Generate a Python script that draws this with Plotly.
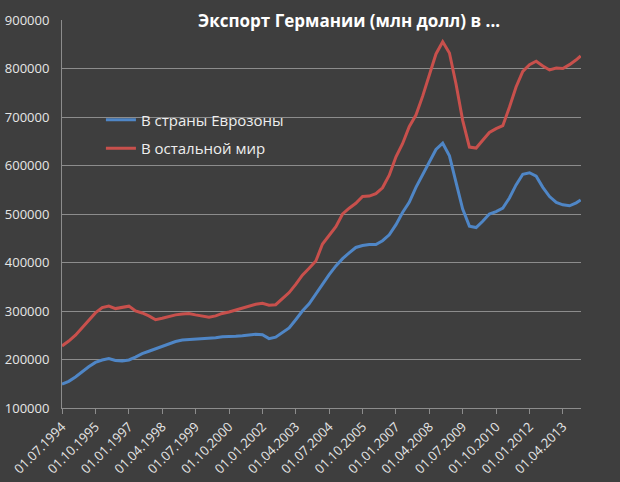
import plotly.graph_objects as go
import pandas as pd

# Quarterly dates (Jul 1994 .. Oct 2013) plus final Dec 2013
dates = list(pd.date_range("1994-07-01", "2013-10-01", freq="3MS").strftime("%Y-%m-%d")) + ["2013-12-01"]

eurozone = [149, 155, 164, 175, 185, 194, 199, 202, 198, 197,
            199, 205, 212, 217, 222, 226, 231, 237, 240, 241,
            242, 243, 243, 245, 247, 247, 248, 249, 250, 252,
            251, 243, 246, 255, 265, 282, 300, 315, 335, 356,
            375, 393, 408, 420, 431, 435, 437, 437, 445, 457,
            478, 503, 524, 555, 581, 606, 633, 646, 620, 565,
            510, 475, 472, 485, 500, 505, 512, 533, 560, 582,
            585, 578, 555, 536, 524, 519, 517, 523, 529]

rest_world = [228, 238, 250, 265, 282, 296, 307, 310, 305, 307,
              310, 300, 296, 290, 282, 285, 289, 292, 294, 295,
              292, 289, 287, 290, 295, 298, 302, 306, 310, 314,
              316, 312, 313, 326, 338, 355, 374, 388, 403, 438,
              456, 474, 500, 512, 522, 536, 537, 542, 554, 580,
              618, 645, 680, 704, 743, 788, 830, 855, 832, 768,
              693, 638, 636, 652, 668, 676, 682, 720, 762, 794,
              808, 815, 805, 797, 801, 800, 808, 818, 826]

eurozone = [v * 1000 for v in eurozone]
rest_world = [v * 1000 for v in rest_world]

tick_dates = list(pd.date_range("1994-07-01", "2013-04-01", freq="15MS").strftime("%Y-%m-%d"))
tick_labels = [pd.Timestamp(d).strftime("%d.%m.%Y") for d in tick_dates]
y_ticks = list(range(100000, 900001, 100000))

series_names = ["В страны Еврозоны", "В остальной мир"]
colors = ["#4f86c6", "#c8504c"]

fig = go.Figure()
for name, vals, col, grp in zip(series_names, [eurozone, rest_world], colors, ["a", "b"]):
    fig.add_trace(go.Scatter(x=dates, y=vals, mode="lines", name=name,
                             legendgroup=grp,
                             line=dict(color=col, width=3)))

fig.update_layout(
    width=620, height=482,
    margin=dict(l=62, r=39, t=20, b=74),
    paper_bgcolor="#3e3e3e", plot_bgcolor="#3e3e3e",
    font=dict(family="Open Sans", color="#e6e6e6", size=13),
    title=dict(text="<b>Экспорт Германии (млн долл) в ...</b>",
               x=0.563, xanchor="center", y=0.956, yanchor="middle",
               font=dict(family="Open Sans", size=17, color="#ffffff")),
    legend=dict(x=0.075, y=0.785, xanchor="left", yanchor="top",
                bgcolor="rgba(0,0,0,0)", font=dict(size=15, color="#eeeeee"),
                tracegroupgap=6),
    showlegend=True,
)
fig.update_xaxes(type="date", range=["1994-07-01", "2013-12-05"],
                 tickvals=tick_dates, ticktext=tick_labels, tickangle=-45,
                 ticks="outside", ticklen=5, tickcolor="#8c8c8c",
                 showline=True, linecolor="#8c8c8c", linewidth=1,
                 showgrid=False, zeroline=False, automargin=False,
                 tickfont=dict(size=13, color="#e6e6e6"))
fig.update_yaxes(range=[100000, 900000], tickvals=y_ticks,
                 ticktext=[str(v) for v in y_ticks],
                 showline=True, linecolor="#8c8c8c", linewidth=1,
                 showgrid=True, gridcolor="#8c8c8c", gridwidth=1,
                 zeroline=False, ticks="", ticklabelstandoff=9,
                 automargin=False,
                 tickfont=dict(size=13, color="#e6e6e6"))

fig.write_html("out.html")
